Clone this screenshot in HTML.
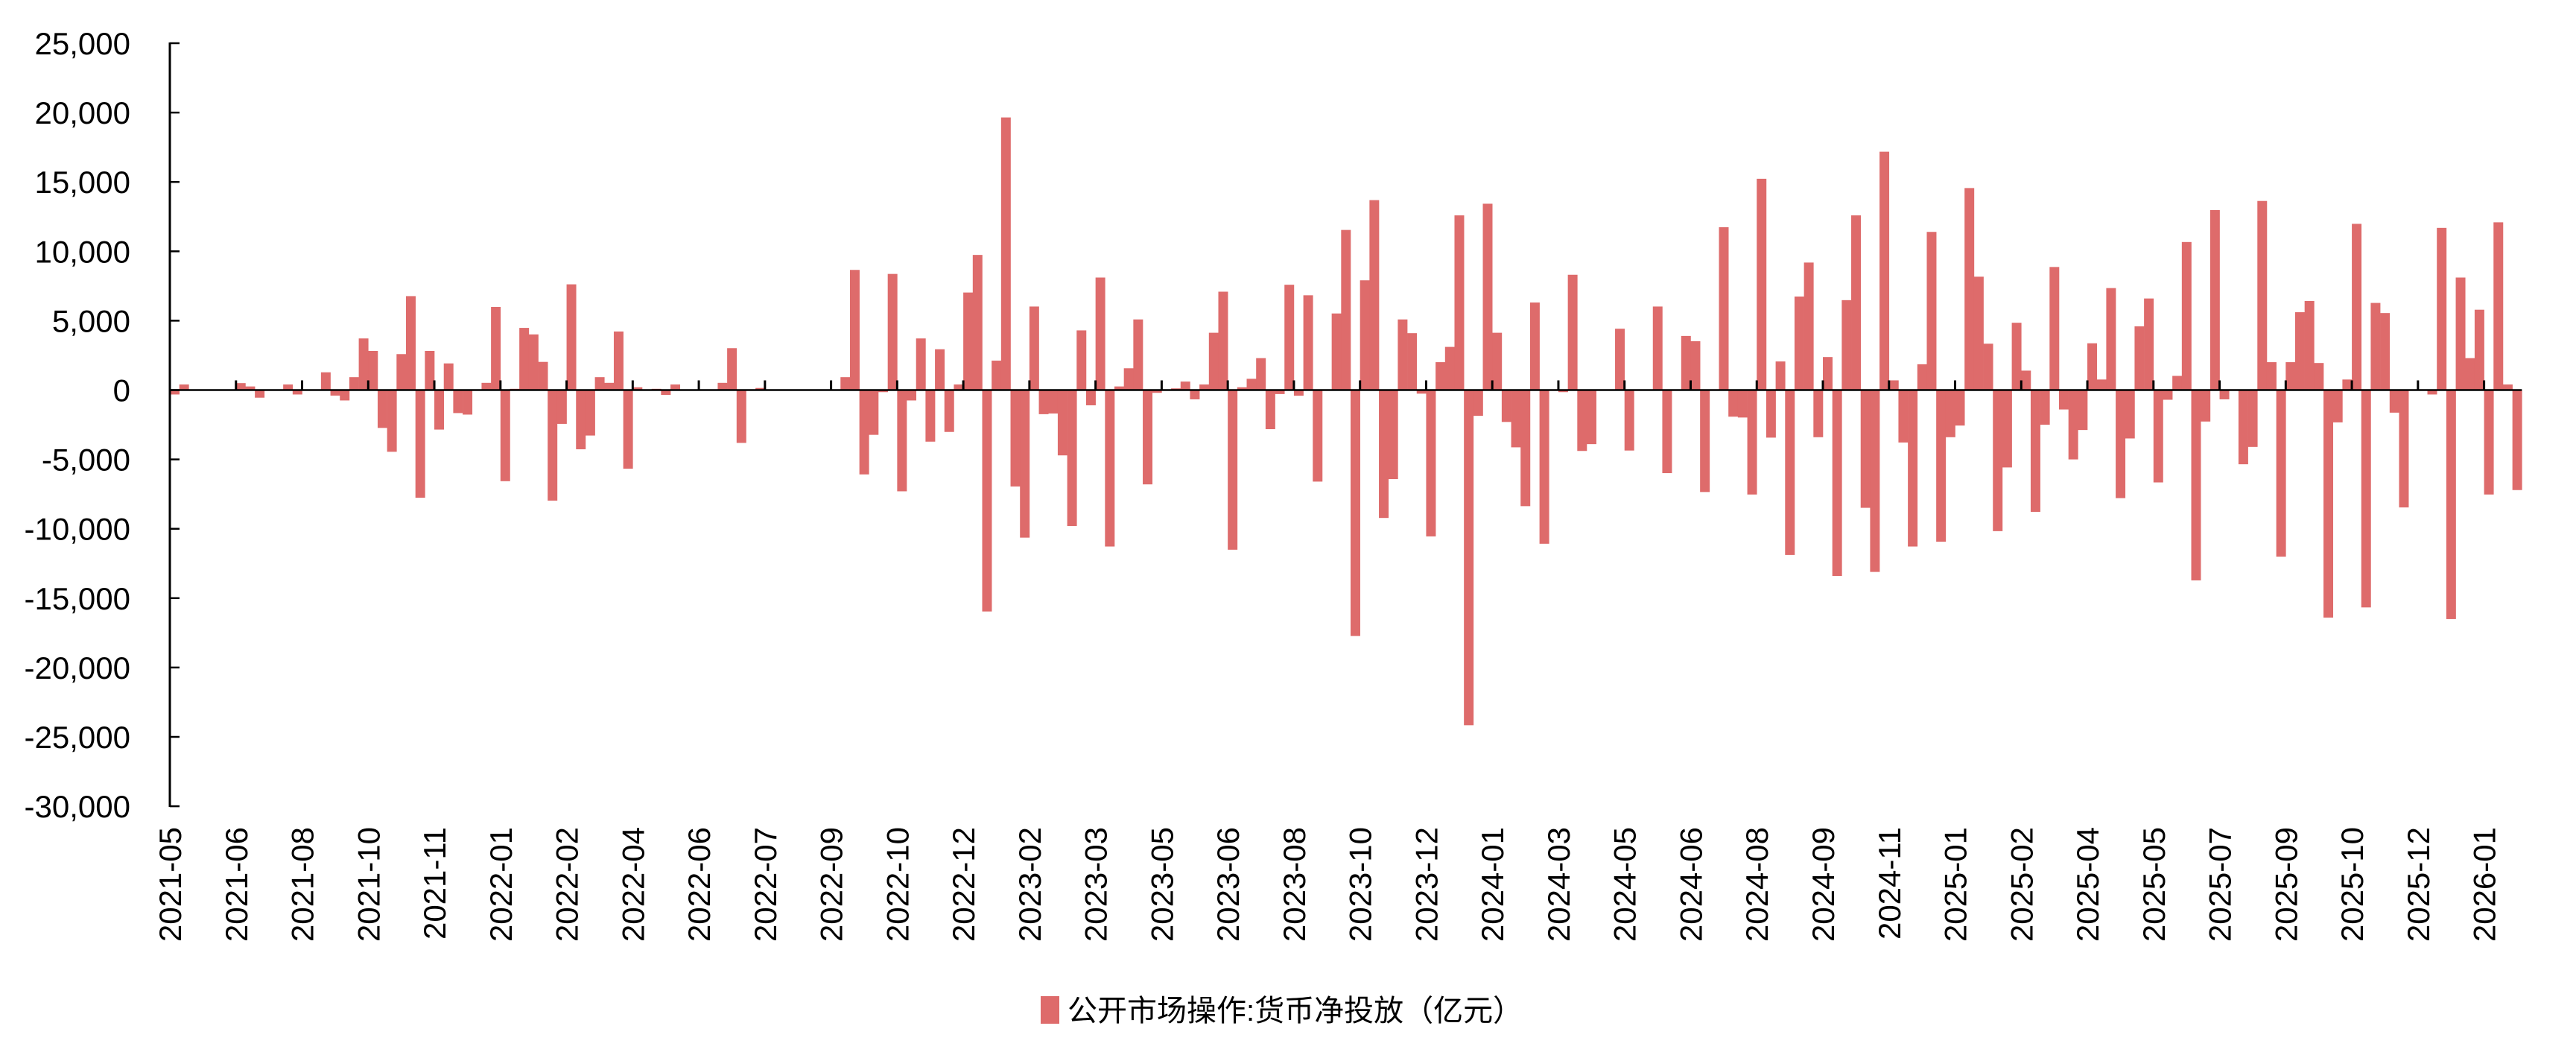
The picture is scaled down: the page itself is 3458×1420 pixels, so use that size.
<!DOCTYPE html>
<html><head><meta charset="utf-8"><style>
html,body{margin:0;padding:0;background:#fff;}
svg{display:block;}
</style></head><body>
<svg id="c" xmlns="http://www.w3.org/2000/svg" width="3458" height="1420" viewBox="0 0 3458 1420">
<rect width="3458" height="1420" fill="#fff"/>
<g id="bars" fill="#DE6B6B"></g>
<g id="axes" stroke="#000"></g>
<g id="ylab" font-family="Liberation Sans, Arial, sans-serif" font-size="42" fill="#000" text-anchor="end"></g>
<g id="xlab" font-family="Liberation Sans, Arial, sans-serif" font-size="42" fill="#000"></g>
<rect x="1397" y="1337" width="25" height="37" fill="#DE6B6B"/>
<text x="1433" y="1370" font-family="Liberation Sans, 'Noto Sans CJK SC', sans-serif" font-size="40" fill="#000">公开市场操作:货币净投放（亿元）</text>
</svg>
<script>
var v=[-320,400,-50,0,0,0,-30,500,260,-550,0,0,400,-320,0,0,1280,-400,-750,930,3720,2820,-2730,-4450,2590,6770,-7760,2820,-2850,1920,-1660,-1770,0,520,5990,-6570,90,4480,4010,2030,-7970,-2440,7620,
-4270,-3280,930,520,4220,-5670,200,-30,90,-350,400,-30,0,0,0,520,3020,-3810,0,150,-30,0,0,0,0,0,0,0,930,8660,-6080,-3230,-150,8370,-7300,-750,3720,-3720,2940,-3020,400,7030,
9740,-15960,2120,19650,-6950,-10640,6020,-1740,-1690,-4710,-9800,4300,-1100,8110,-11280,260,1570,5090,-6800,-200,0,120,610,-670,400,4130,7090,-11510,200,810,2300,-2820,-290,7590,-410,6830,-6600,0,5520,11540,-17730,7910,
13690,-9220,-6420,5090,4100,-260,-10550,2010,3110,12590,-24160,-1860,13430,4130,-2300,-4130,-8370,6310,-11080,0,-150,8310,-4390,-3900,0,0,4420,-4360,0,0,6020,-5990,0,3900,3520,-7350,0,11740,-1920,-1980,-7530,15230,-3430,
2060,-11890,6740,9190,-3400,2380,-13400,6480,12590,-8490,-13110,17180,700,-3780,-11280,1860,11400,-10930,-3400,-2560,14560,8170,3340,-10170,-5580,4850,1400,-8780,-2500,8870,-1400,-5000,-2880,3370,760,7350,-7790,-3490,4590,6600,-6660,-700,
1020,10670,-13720,-2270,12970,-670,0,-5350,-4100,13630,2010,-12010,2010,5610,6420,1950,-16400,-2330,760,11980,-15670,6280,5550,-1630,-8460,0,-30,-320,11690,-16510,8110,2300,5790,-7530,12090,400,-7210];
var NS="http://www.w3.org/2000/svg";
function el(t,a,p,txt){var e=document.createElementNS(NS,t);for(var k in a)e.setAttribute(k,a[k]);if(txt!=null)e.textContent=txt;p.appendChild(e);return e;}
var x0=228,w=12.68,z=523.5,s=93.1/5000;
var bars=document.getElementById('bars');
for(var i=0;i<v.length;i++){var h=v[i]*s;if(Math.abs(h)<0.3)continue;
 var y=h>0?z-h:z;el('rect',{x:(x0+i*w).toFixed(2),y:y.toFixed(2),width:(w+0.3).toFixed(2),height:Math.abs(h).toFixed(2)},bars);}
var ax=document.getElementById('axes');
var xend=x0+v.length*w;
el('line',{x1:228,y1:57,x2:228,y2:1083,'stroke-width':3},ax);
el('line',{x1:227,y1:z,x2:xend,y2:z,'stroke-width':2.5},ax);
var yl=document.getElementById('ylab');
var labs=['25,000','20,000','15,000','10,000','5,000','0','-5,000','-10,000','-15,000','-20,000','-25,000','-30,000'];
for(var k=0;k<12;k++){var yy=58+k*93.1;el('line',{x1:228,y1:yy,x2:241,y2:yy,'stroke-width':2.5},ax);
 el('text',{x:175,y:(yy+15).toFixed(1)},yl,labs[k]);}
var xl=document.getElementById('xlab');
var xs=['2021-05','2021-06','2021-08','2021-10','2021-11','2022-01','2022-02','2022-04','2022-06','2022-07','2022-09','2022-10','2022-12','2023-02','2023-03','2023-05','2023-06','2023-08','2023-10','2023-12','2024-01','2024-03','2024-05','2024-06','2024-08','2024-09','2024-11','2025-01','2025-02','2025-04','2025-05','2025-07','2025-09','2025-10','2025-12','2026-01'];
for(var j=0;j<xs.length;j++){var xx=x0+j*7*w;
 if(j>0)el('line',{x1:xx,y1:z-13,x2:xx,y2:z,'stroke-width':3},ax);
 el('text',{x:0,y:0,'text-anchor':'end',transform:'translate('+(xx+15).toFixed(1)+',1110) rotate(-90)'},xl,xs[j]);}
</script>
</body></html>
